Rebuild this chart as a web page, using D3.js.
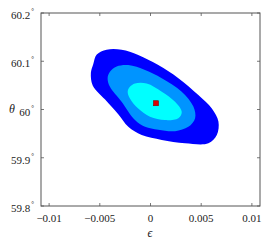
<!DOCTYPE html>
<html>
<head>
<meta charset="utf-8">
<script src="https://cdn.jsdelivr.net/npm/d3@7"></script>
<style>
  body { margin: 0; background: #fff; }
  svg text { font-family: "Liberation Serif", "Times New Roman", serif; fill: #222; }
</style>
</head>
<body>
<svg id="chart" width="266" height="240"></svg>
<script>
// ----------- Data (epsilon, theta) ----------------------------------
const xTicks = [-0.01, -0.005, 0, 0.005, 0.01];
const xTickLabels = ["\u22120.01", "\u22120.005", "0", "0.005", "0.01"];
const yTicks = [59.8, 59.9, 60, 60.1, 60.2];
const yTickLabels = ["59.8", "59.9", "60", "60.1", "60.2"];

// outer contour (largest region)
const outerContour = [
  [-0.00565, 60.094], [-0.00530, 60.114], [-0.00433, 60.124], [-0.00285, 60.124],
  [-0.00121, 60.113], [0.00077, 60.092], [0.00275, 60.065], [0.00472, 60.030],
  [0.00605, 60.002], [0.00670, 59.975], [0.00654, 59.947], [0.00571, 59.930],
  [0.00341, 59.930], [0.00111, 59.937], [-0.00087, 59.947], [-0.00219, 59.964],
  [-0.00318, 59.990], [-0.00450, 60.021], [-0.00570, 60.050], [-0.00588, 60.076]
];
// middle contour
const middleContour = [
  [-0.00400, 60.078], [-0.00334, 60.089], [-0.00219, 60.092], [-0.00054, 60.082],
  [0.00111, 60.065], [0.00308, 60.037], [0.00423, 60.006], [0.00440, 59.982],
  [0.00373, 59.964], [0.00242, 59.955], [0.00077, 59.958], [-0.00054, 59.964],
  [-0.00153, 59.978], [-0.00285, 60.016], [-0.00400, 60.047], [-0.00423, 60.065]
];
// inner contour
const innerContour = [
  [-0.00203, 60.047], [-0.00153, 60.054], [-0.00038, 60.054], [0.00111, 60.037],
  [0.00242, 60.016], [0.00308, 59.995], [0.00275, 59.982], [0.00143, 59.978],
  [-0.00005, 59.985], [-0.00121, 60.002], [-0.00203, 60.023], [-0.00225, 60.037]
];
const contours = [outerContour, middleContour, innerContour];
const contourColors = ["#0000ff", "#0094ff", "#00ffff"];
const bestFit = [0.00054, 60.013];

// ----------- Layout ------------
const svg = d3.select("#chart");
const plotL = 41, plotR = 260, plotT = 13, plotB = 206;

const x = d3.scaleLinear().domain([-0.0108, 0.0108]).range([plotL, plotR]);
const y = d3.scaleLinear().domain([59.8, 60.2]).range([plotB, plotT]);

// ----------- Contours ------------
const line = d3.line()
  .x(d => x(d[0]))
  .y(d => y(d[1]))
  .curve(d3.curveCatmullRomClosed.alpha(0.5));

svg.append("g")
  .selectAll("path")
  .data(contours)
  .enter()
  .append("path")
  .attr("d", line)
  .attr("fill", (d, i) => contourColors[i])
  .attr("stroke", "none");

// best-fit point
svg.append("rect")
  .attr("x", x(bestFit[0]) - 2.5)
  .attr("y", y(bestFit[1]) - 2.5)
  .attr("width", 5)
  .attr("height", 5)
  .attr("fill", "#dd0000")
  .attr("stroke", "#880000")
  .attr("stroke-width", 0.6);

// ----------- Frame and ticks ------------
const frameColor = "#555";
svg.append("rect")
  .attr("x", plotL).attr("y", plotT)
  .attr("width", plotR - plotL).attr("height", plotB - plotT)
  .attr("fill", "none")
  .attr("stroke", frameColor)
  .attr("stroke-width", 1);

const tickLen = 3;
const ticks = svg.append("g").attr("stroke", frameColor).attr("stroke-width", 0.8);
xTicks.forEach(t => {
  ticks.append("line").attr("x1", x(t)).attr("x2", x(t)).attr("y1", plotB).attr("y2", plotB - tickLen);
  ticks.append("line").attr("x1", x(t)).attr("x2", x(t)).attr("y1", plotT).attr("y2", plotT + tickLen);
});
yTicks.forEach(t => {
  ticks.append("line").attr("x1", plotL).attr("x2", plotL + tickLen).attr("y1", y(t)).attr("y2", y(t));
  ticks.append("line").attr("x1", plotR).attr("x2", plotR - tickLen).attr("y1", y(t)).attr("y2", y(t));
});

// x tick labels
svg.append("g")
  .selectAll("text")
  .data(xTicks)
  .enter()
  .append("text")
  .attr("x", d => x(d))
  .attr("y", 222)
  .attr("text-anchor", "middle")
  .style("font-size", "11px")
  .text((d, i) => xTickLabels[i]);

// y tick labels with degree marks
const yLab = svg.append("g")
  .selectAll("text")
  .data(yTicks)
  .enter()
  .append("text")
  .attr("x", 34)
  .attr("y", d => y(d) + 6)
  .attr("text-anchor", "end")
  .style("font-size", "11px");
yLab.append("tspan").text((d, i) => yTickLabels[i]);
yLab.append("tspan")
  .attr("dy", -6)
  .attr("dx", 1)
  .style("font-size", "7px")
  .text("\u00b0");

// axis labels
svg.append("text")
  .attr("x", 150)
  .attr("y", 237)
  .attr("text-anchor", "middle")
  .style("font-size", "12px")
  .style("font-style", "italic")
  .text("\u03f5");

svg.append("text")
  .attr("x", 12)
  .attr("y", 113)
  .attr("text-anchor", "middle")
  .style("font-size", "12px")
  .style("font-style", "italic")
  .text("\u03b8");
</script>
</body>
</html>
